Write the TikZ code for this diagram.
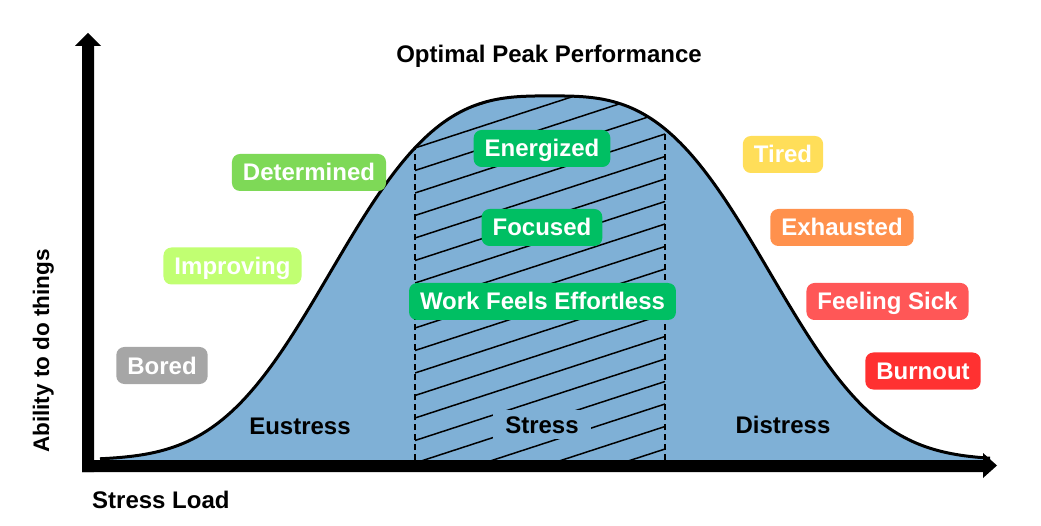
\documentclass[tikz,border=0pt]{standalone}
\usepackage{fontspec}
\setmainfont{Liberation Sans}
\definecolor{areablue}{RGB}{127,176,214}
\definecolor{cgreen}{RGB}{0,191,99}
\definecolor{cdet}{RGB}{126,217,87}
\definecolor{cimp}{RGB}{193,255,114}
\definecolor{cbored}{RGB}{166,166,166}
\definecolor{ctired}{RGB}{255,222,89}
\definecolor{cexh}{RGB}{255,145,77}
\definecolor{csick}{RGB}{255,87,87}
\definecolor{cburn}{RGB}{255,49,49}
\tikzset{
  stbox/.style={rounded corners=8bp, text=white, font=\bfseries\fontsize{24bp}{28bp}\selectfont,
    inner xsep=11bp, inner ysep=8bp, text height=19bp, text depth=2bp},
  lbl/.style={font=\bfseries\fontsize{24bp}{28bp}\selectfont, text=black, inner sep=0pt},
  hatchline/.style={line width=1.5bp, black},
  divider/.style={line width=1.5bp, black, dash pattern=on 6bp off 4bp},
  axisshape/.style={fill=black},
  bell/.style={line width=3bp, black},
  bellplot/.style={domain=100:990, samples=240, variable=\t}
}
\begin{document}
\begin{tikzpicture}[x=1bp,y=-1bp]
\useasboundingbox (0,0) rectangle (1041,526);
% area under curve
\fill[areablue] plot[bellplot] ({\t},{460-364*exp(-(abs(\t-550)/252)^3)}) -- (990,460) -- (100,460) -- cycle;
% hatching and dividers
\begin{scope}
  \clip plot[bellplot] ({\t},{460-364*exp(-(abs(\t-550)/252)^3)}) -- (990,460) -- (100,460) -- cycle;
  \clip (415,0) rectangle (665,470);
  \foreach \k in {-10,...,10} {
    \draw[hatchline] (415,{328+22.5*\k}) -- (665,{328+22.5*\k-81.5});
  }
\end{scope}
\begin{scope}
  \clip plot[bellplot] ({\t},{460-364*exp(-(abs(\t-550)/252)^3)}) -- (990,460) -- (100,460) -- cycle;
  \coordinate (dl1) at (415,460); \coordinate (dl2) at (415,80);
  \coordinate (dr1) at (665,460); \coordinate (dr2) at (665,80);
  \draw[divider] (dl1) -- (dl2);
  \draw[divider] (dr1) -- (dr2);
\end{scope}
% curve
\draw[bell] plot[bellplot] ({\t},{460-364*exp(-(abs(\t-550)/252)^3)});
% axes
\fill[axisshape] (82,472) -- (82,46) -- (75,46) -- (88,33) -- (101,46) -- (94,46) -- (94,472) -- cycle;
\fill[axisshape] (82,472) -- (82,460) -- (983,460) -- (983,453) -- (997,465.5) -- (983,478) -- (983,472) -- cycle;
% labels
\node[lbl, anchor=base] (title) at (549,63) {Optimal Peak Performance};
\node[lbl, anchor=base west] (xlab) at (92,508) {Stress Load};
\node[lbl, anchor=base, rotate=90, font=\bfseries\fontsize{22.5bp}{27bp}\selectfont] (ylab) at (49,351) {Ability to do things};
\node[lbl, anchor=base] (eu) at (300,434) {Eustress};
\node[lbl, anchor=base, fill=areablue, inner xsep=12bp, inner ysep=6bp] (st) at (542,433) {Stress};
\node[lbl, anchor=base] (di) at (783,433) {Distress};
% boxes
\node[stbox, fill=cgreen] (energized) at (542,148.5) {Energized};
\node[stbox, fill=cgreen] (focused) at (542,227.5) {Focused};
\node[stbox, fill=cgreen] (work) at (542.5,301.5) {Work Feels Effortless};
\node[stbox, fill=cdet] (determined) at (309,172.5) {Determined};
\node[stbox, fill=cimp] (improving) at (232.5,266) {Improving};
\node[stbox, fill=cbored] (bored) at (162,365.5) {Bored};
\node[stbox, fill=ctired] (tired) at (783,154.5) {Tired};
\node[stbox, fill=cexh] (exhausted) at (842,227.5) {Exhausted};
\node[stbox, fill=csick] (sick) at (887.5,301.5) {Feeling Sick};
\node[stbox, fill=cburn] (burnout) at (923,371) {Burnout};
\end{tikzpicture}
\end{document}
